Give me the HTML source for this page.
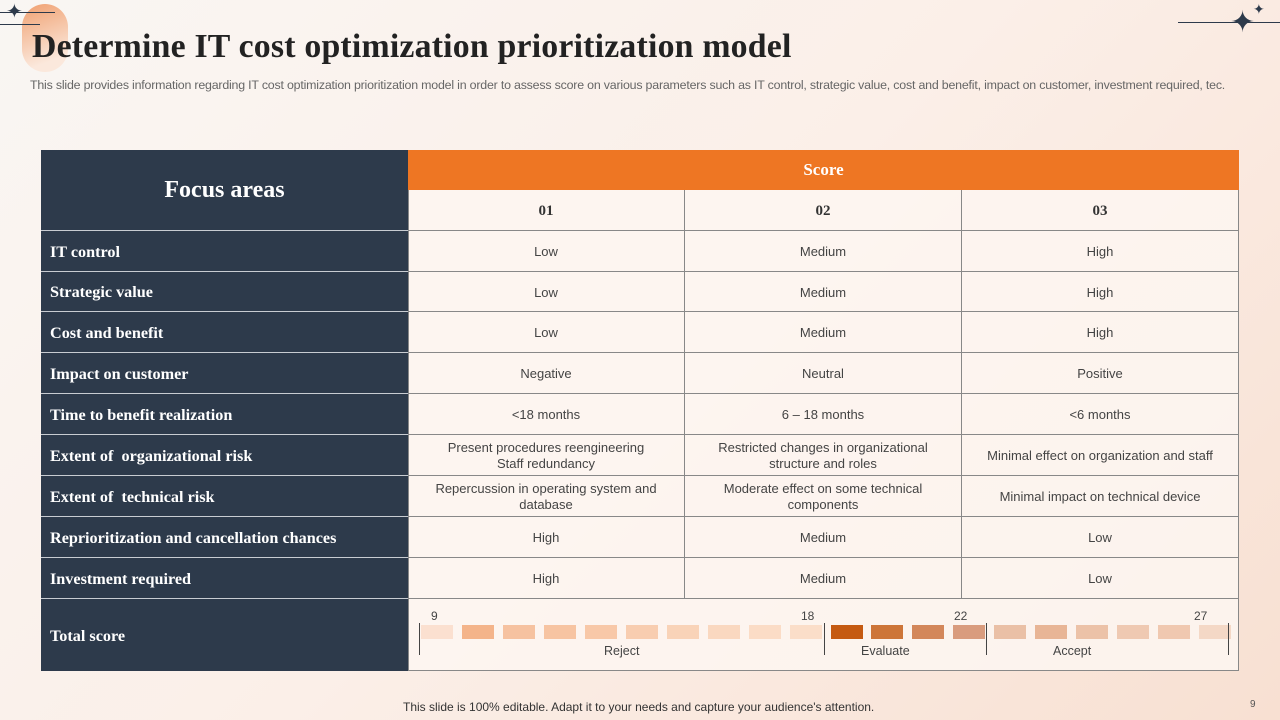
<!DOCTYPE html>
<html><head><meta charset="utf-8"><style>
*{margin:0;padding:0;box-sizing:border-box}
body{width:1280px;height:720px;overflow:hidden;position:relative;background:linear-gradient(135deg,#f9f6f3 0%,#fbefe8 50%,#f8e0d2 100%);font-family:"Liberation Sans",sans-serif}
.a{position:absolute}
.t{font-family:"Liberation Serif",serif;font-weight:bold}
.l{position:absolute;left:41px;width:367px;background:#2d3a4b;color:#fff;font-family:"Liberation Serif",serif;font-weight:bold;font-size:16.2px;padding-left:9px;padding-top:2px;display:flex;align-items:center;border-bottom:1px solid #c8ccd2}
.c{position:absolute;display:flex;align-items:center;justify-content:center;text-align:center;font-size:13px;color:#444;border-right:1px solid #888;border-bottom:1px solid #888;line-height:16px;padding:2px 18px 0}
.s{position:absolute;top:625px;height:14px;width:32px}
.n{position:absolute;top:609px;font-size:12px;color:#444}
</style></head><body>
<div class="a" style="left:22px;top:4px;width:46px;height:68px;border-radius:23px;background:linear-gradient(160deg,#f0a070,#fbe8dc 80%)"></div>
<div class="a" style="left:0;top:12px;width:55px;height:1px;background:#2d3a4b"></div>
<div class="a" style="left:0;top:24px;width:40px;height:1px;background:#2d3a4b"></div>
<div class="a" style="left:6px;top:2px;font-size:20px;color:#2d3a4b;line-height:20px">✦</div>
<div class="a" style="left:1178px;top:22px;width:102px;height:1px;background:#2d3a4b"></div>
<div class="a" style="left:1230px;top:8px;font-size:30px;color:#2d3a4b;line-height:30px">✦</div>
<div class="a" style="left:1253px;top:2px;font-size:14px;color:#2d3a4b;line-height:14px">✦</div>
<div class="a t" style="left:32px;top:28px;font-size:33.8px;color:#222;letter-spacing:0.2px">Determine IT cost optimization prioritization model</div>
<div class="a" style="left:30px;top:78px;font-size:12.4px;color:#666;letter-spacing:-0.2px">This slide provides information regarding IT cost optimization prioritization model in order to assess score on various parameters such as IT control, strategic value, cost and benefit, impact on customer, investment required, tec.</div>

<div class="a" style="left:408px;top:150px;width:831px;height:521px;background:rgba(253,246,241,0.85);border:1px solid #888"></div>
<div class="l" style="top:150px;height:81px;justify-content:center;padding:0;font-size:24px">Focus areas</div>
<div class="a t" style="left:408px;top:150px;width:831px;height:40px;background:#ee7623;color:#fff;font-size:17px;display:flex;align-items:center;justify-content:center">Score</div>
<div id="g"></div>
<div class="l" style="top:599px;height:72px;border:none">Total score</div>
<div class="a" style="left:403px;top:700px;font-size:12px;color:#333">This slide is 100% editable. Adapt it to your needs and capture your audience's attention.</div>
<div class="a" style="left:1250px;top:699px;font-size:10px;color:#555">9</div>
<script>
var rows=[["","01","02","03"],["IT control","Low","Medium","High"],["Strategic value","Low","Medium","High"],["Cost and benefit","Low","Medium","High"],["Impact on customer","Negative","Neutral","Positive"],["Time to benefit realization","&lt;18 months","6 – 18 months","&lt;6 months"],["Extent of &nbsp;organizational risk","Present procedures reengineering<br>Staff redundancy","Restricted changes in organizational structure and roles","Minimal effect on organization and staff"],["Extent of &nbsp;technical risk","Repercussion in operating system and database","Moderate effect on some technical components","Minimal impact on technical device"],["Reprioritization and cancellation chances","High","Medium","Low"],["Investment required","High","Medium","Low"]];
var ys=[190,231,272,312,353,394,435,476,517,558,599];var xs=[408,685,962,1239];var h="";
rows.forEach(function(r,i){var y=ys[i],hh=ys[i+1]-y;
if(i>0)h+='<div class="l" style="top:'+y+'px;height:'+hh+'px">'+r[0]+'</div>';
for(var j=1;j<4;j++){h+='<div class="c" style="left:'+xs[j-1]+'px;top:'+y+'px;width:'+(xs[j]-xs[j-1])+'px;height:'+hh+'px;'+(i==0?'font-family:Liberation Serif,serif;font-weight:bold;font-size:15px;color:#333':'')+'">'+r[j]+'</div>';}});
var cols=["#fbe0d0","#f4b48a","#f6c2a0","#f7c4a2","#f8c8a8","#f8cdb0","#f9d3b8","#fad8c0","#fbdcc6","#fbdec9","#c55a11","#cd7538","#d3875a","#d99c7e","#eac0a6","#e8b596","#ecc2a8","#efc9b2","#f0c8b0","#f4d8c6"];
for(var k=0;k<20;k++){h+='<div class="s" style="left:'+Math.round(421+k*40.95)+'px;background:'+cols[k]+'"></div>';}
[419,824,986,1228].forEach(function(x){h+='<div class="a" style="left:'+x+'px;top:623px;width:1px;height:32px;background:#444"></div>';});
h+='<div class="n" style="left:431px">9</div><div class="n" style="left:801px">18</div><div class="n" style="left:954px">22</div><div class="n" style="left:1194px">27</div>';
h+='<div class="a" style="left:604px;top:644px;font-size:12.5px;color:#444">Reject</div><div class="a" style="left:861px;top:644px;font-size:12.5px;color:#444">Evaluate</div><div class="a" style="left:1053px;top:644px;font-size:12.5px;color:#444">Accept</div>';
document.getElementById("g").innerHTML=h;
</script>
</body></html>
